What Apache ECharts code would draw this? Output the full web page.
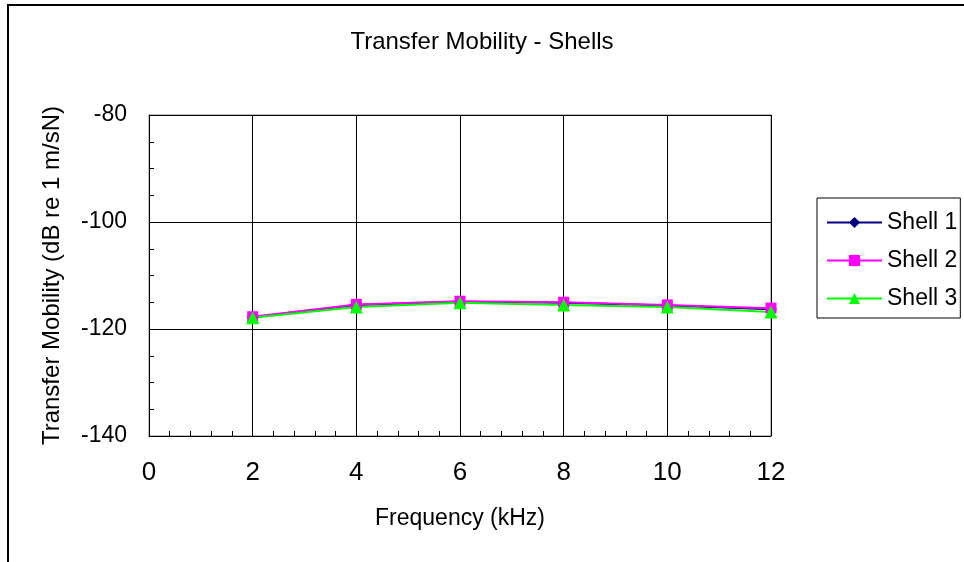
<!DOCTYPE html>
<html>
<head>
<meta charset="utf-8">
<script src="https://cdn.jsdelivr.net/npm/echarts@6/dist/echarts.min.js"></script>
<style>
  html, body { margin: 0; padding: 0; background: #fff; }
  #chart { width: 964px; height: 562px; }
</style>
</head>
<body>
<div id="chart"></div>
<script>
// frequency in kHz
const freq = [2, 4, 6, 8, 10, 12]
const shell1 = [-117.8, -115.5, -114.9, -115.1, -115.6, -116.3]
const shell2 = [-117.7, -115.4, -114.8, -115.0, -115.5, -116.1]
const shell3 = [-117.9, -115.9, -115.1, -115.5, -115.9, -116.8]

const pairs = (ys) => freq.map((x, i) => [x, ys[i]])
const font = 'Liberation Sans, Arial, sans-serif'

let chart = echarts.init(document.getElementById('chart'))
chart.setOption({
  animation: false,
  backgroundColor: '#fff',
  textStyle: { fontFamily: font },
  graphic: [
    {
      // outer chart frame, cut off at right and bottom
      type: 'rect',
      shape: { x: 8, y: 5, width: 1000, height: 600 },
      style: { fill: 'none', stroke: '#000', lineWidth: 2 },
      z: -1
    }
  ],
  title: {
    text: 'Transfer Mobility - Shells',
    left: 'center',
    top: 25,
    textStyle: { fontFamily: font, fontSize: 24, fontWeight: 'normal', color: '#000' }
  },
  legend: {
    orient: 'vertical',
    left: 817,
    top: 198,
    padding: [13, 3, 8, 9],
    itemGap: 15,
    itemWidth: 55,
    itemHeight: 14,
    borderColor: '#000',
    borderWidth: 1,
    borderRadius: 0,
    backgroundColor: '#fff',
    textStyle: { fontFamily: font, fontSize: 23, color: '#000' },
    data: ['Shell 1', 'Shell 2', 'Shell 3']
  },
  grid: {
    left: 149,
    right: 193,
    top: 115,
    bottom: 126,
    show: true,
    borderColor: '#808080',
    borderWidth: 1
  },
  xAxis: {
    type: 'value',
    min: 0,
    max: 12,
    interval: 2,
    name: 'Frequency (kHz)',
    nameLocation: 'middle',
    nameGap: 71,
    nameTextStyle: { fontFamily: font, fontSize: 23, color: '#000' },
    axisLine: { lineStyle: { color: '#000', width: 1 } },
    axisTick: { inside: true, length: 6, lineStyle: { color: '#000' } },
    minorTick: { show: true, splitNumber: 5, length: 5, lineStyle: { color: '#000' } },
    axisLabel: { fontFamily: font, fontSize: 26, color: '#000', margin: 24 },
    splitLine: { show: true, lineStyle: { color: '#000', width: 1 } }
  },
  yAxis: {
    type: 'value',
    min: -140,
    max: -80,
    interval: 20,
    name: 'Transfer Mobility (dB re 1 m/sN)',
    nameLocation: 'middle',
    nameGap: 85,
    nameTextStyle: { fontFamily: font, fontSize: 24, color: '#000' },
    axisLine: { show: true, lineStyle: { color: '#000', width: 1 } },
    axisTick: { show: true, inside: true, length: 6, lineStyle: { color: '#000' } },
    minorTick: { show: true, splitNumber: 4, length: 5, lineStyle: { color: '#000' } },
    axisLabel: { fontFamily: font, fontSize: 23, color: '#000', margin: 22 },
    splitLine: { show: true, lineStyle: { color: '#000', width: 1 } }
  },
  series: [
    {
      name: 'Shell 1',
      type: 'line',
      data: pairs(shell1),
      symbol: 'diamond',
      symbolSize: 12,
      color: '#000080',
      lineStyle: { width: 2, color: '#000080' },
      itemStyle: { color: '#000080' }
    },
    {
      name: 'Shell 2',
      type: 'line',
      data: pairs(shell2),
      symbol: 'rect',
      symbolSize: 11,
      color: '#ff00ff',
      lineStyle: { width: 2, color: '#ff00ff' },
      itemStyle: { color: '#ff00ff' }
    },
    {
      name: 'Shell 3',
      type: 'line',
      data: pairs(shell3),
      symbol: 'triangle',
      symbolSize: 13,
      color: '#00ff00',
      lineStyle: { width: 2, color: '#00ff00' },
      itemStyle: { color: '#00ff00' }
    }
  ]
})
</script>
</body>
</html>
